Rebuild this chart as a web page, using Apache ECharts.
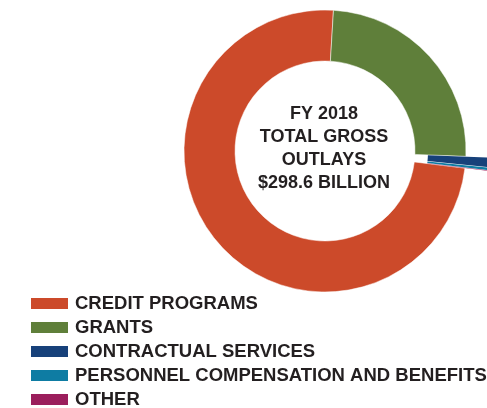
<!DOCTYPE html>
<html>
<head>
<meta charset="utf-8">
<style>
  html, body { margin: 0; padding: 0; background: #fff; }
  #chart { width: 487px; height: 408px; }
</style>
<script src="https://cdn.jsdelivr.net/npm/echarts@6/dist/echarts.min.js"></script>
</head>
<body>
<div id="chart"></div>
<script>
// outlay categories, FY 2018 ($ billions)
var categories = [
  "CREDIT PROGRAMS",
  "GRANTS",
  "CONTRACTUAL SERVICES",
  "PERSONNEL COMPENSATION AND BENEFITS",
  "OTHER"
];
var outlays = [221.0, 73.6, 3.0, 0.8, 0.2];
var pulledOut = [false, false, true, true, true];
var colors = ["#CC4A2A", "#5F7F3A", "#17417A", "#0E7CA3", "#9B1E5C"];
var centerLines = ["FY 2018", "TOTAL GROSS", "OUTLAYS", "$298.6 BILLION"];

var chart = echarts.init(document.getElementById("chart"));

// main ring draws the big slices, the outer ring only the pulled-out ones
function ringData(showPulled) {
  return categories.map(function (name, i) {
    var visible = pulledOut[i] === showPulled;
    return {
      name: name,
      value: outlays[i],
      selected: showPulled && pulledOut[i],
      itemStyle: {
        color: visible ? colors[i] : "rgba(0,0,0,0)",
        borderWidth: visible && !showPulled ? 0.5 : 0
      }
    };
  });
}

var legendData = categories.map(function (name, i) {
  return { name: name, itemStyle: { color: colors[i], borderWidth: 0 } };
});

var option = {
  animation: false,
  color: colors,
  legend: {
    orient: "vertical",
    left: 31,
    top: 294,
    height: 120,
    padding: 0,
    itemWidth: 37,
    itemHeight: 11,
    itemGap: 5,
    icon: "rect",
    selectedMode: false,
    data: legendData,
    textStyle: {
      fontFamily: "Liberation Sans, Arial, sans-serif",
      fontWeight: "bold",
      fontSize: 18.5,
      lineHeight: 18,
      height: 18,
      color: "#231F20",
      padding: [0, 0, 0, 2]
    }
  },
  graphic: [
    {
      type: "text",
      x: 324,
      y: 149,
      style: {
        text: centerLines.join("\n"),
        fontFamily: "Liberation Sans, Arial, sans-serif",
        fontWeight: "bold",
        fontSize: 18,
        lineHeight: 23,
        fill: "#231F20",
        textAlign: "center",
        textVerticalAlign: "middle"
      }
    }
  ],
  series: [
    {
      type: "pie",
      center: [325, 151],
      radius: [90, 141],
      startAngle: -7,
      clockwise: true,
      label: { show: false },
      labelLine: { show: false },
      emphasis: { disabled: true },
      itemStyle: { borderColor: "#fff" },
      data: ringData(false)
    },
    {
      type: "pie",
      silent: true,
      center: [325, 151],
      radius: [90, 152],
      startAngle: -7,
      clockwise: true,
      selectedMode: "multiple",
      selectedOffset: 13,
      label: { show: false },
      labelLine: { show: false },
      emphasis: { disabled: true },
      data: ringData(true)
    }
  ]
};

chart.setOption(option);
window.addEventListener("resize", function () {
  chart.resize();
});
</script>
</body>
</html>
